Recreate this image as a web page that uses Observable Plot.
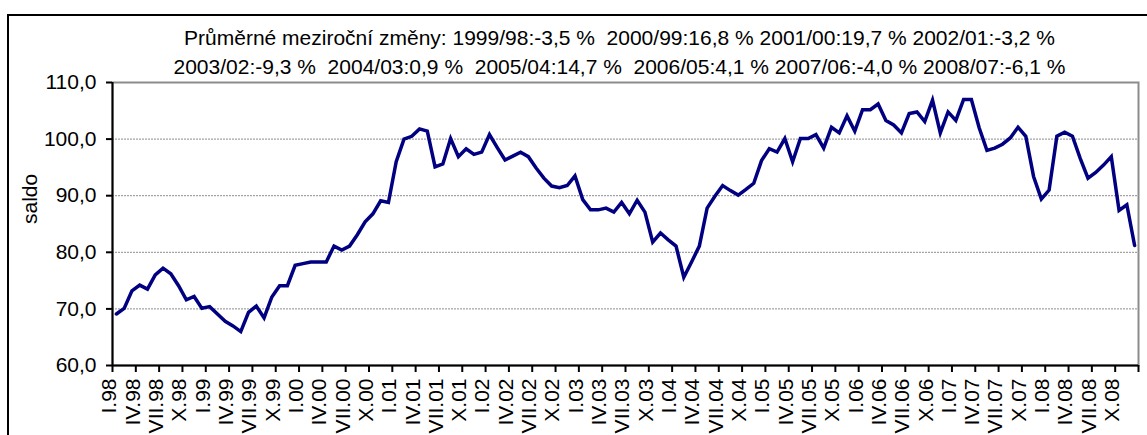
<!DOCTYPE html>
<html><head><meta charset="utf-8">
<script src="https://cdn.jsdelivr.net/npm/d3@7"></script>
<script src="https://cdn.jsdelivr.net/npm/@observablehq/plot@0.6"></script>
<style>
body{margin:0;background:#fff;}
#wrap{position:relative;width:1147px;height:435px;overflow:hidden;font-family:"Liberation Sans",Arial,sans-serif;}
#chart{position:absolute;left:0;top:0;}
#border{position:absolute;left:7px;top:14px;width:1200px;height:500px;border-left:2.5px solid #000;border-top:2px solid #000;}
.t{position:absolute;left:0;width:1239px;text-align:center;font-size:21px;line-height:21px;white-space:pre;color:#000;}
</style></head>
<body>
<div id="wrap"><div id="chart"></div><div id="border"></div><div class="t" id="t1"></div><div class="t" id="t2"></div></div>
<script>
// Monthly values I.1998 – XII.2008
const values = [
  69.1, 70.1, 73.2, 74.2, 73.5, 76.0, 77.2, 76.2, 74.1, 71.6, 72.2, 70.1,
  70.4, 69.1, 67.8, 67.0, 66.0, 69.4, 70.5, 68.4, 72.1, 74.1, 74.1, 77.7,
  78.0, 78.3, 78.3, 78.3, 81.1, 80.4, 81.1, 83.1, 85.4, 86.8, 89.1, 88.8,
  96.0, 100.0, 100.5, 101.8, 101.4, 95.1, 95.6, 100.1, 96.9, 98.3, 97.3, 97.7,
  100.8, 98.5, 96.3, 97.0, 97.7, 96.9, 94.9, 93.1, 91.7, 91.4, 91.8, 93.5,
  89.3, 87.5, 87.5, 87.8, 87.1, 88.8, 86.8, 89.2, 87.1, 81.8, 83.4, 82.2,
  81.1, 75.6, 78.3, 81.1, 87.8, 89.9, 91.8, 90.9, 90.1, 91.1, 92.2, 96.2,
  98.3, 97.7, 100.1, 96.0, 100.1, 100.1, 100.8, 98.4, 102.1, 101.1, 104.1, 101.4,
  105.2, 105.2, 106.2, 103.3, 102.5, 101.1, 104.5, 104.8, 103.1, 106.9, 101.1, 104.8,
  103.3, 107.0, 107.0, 102.0, 98.0, 98.4, 99.1, 100.2, 102.1, 100.5, 93.4, 89.4,
  91.0, 100.5, 101.2, 100.5, 96.6, 93.1, 94.1, 95.4, 96.9, 87.4, 88.4, 81.2
];
const tickLabels = [
  "I.98","IV.98","VII.98","X.98","I.99","IV.99","VII.99","X.99",
  "I.00","IV.00","VII.00","X.00","I.01","IV.01","VII.01","X.01",
  "I.02","IV.02","VII.02","X.02","I.03","IV.03","VII.03","X.03",
  "I.04","IV.04","VII.04","X.04","I.05","IV.05","VII.05","X.05",
  "I.06","IV.06","VII.06","X.06","I.07","IV.07","VII.07","X.07",
  "I.08","IV.08","VII.08","X.08"
];
const yTicks = [60, 70, 80, 90, 100, 110];
const gridValues = [70, 80, 90, 100];
const yLabel = "saldo";
const titleLine1 = "Průměrné meziroční změny: 1999/98:-3,5 %  2000/99:16,8 % 2001/00:19,7 % 2002/01:-3,2 %";
const titleLine2 = "2003/02:-9,3 %  2004/03:0,9 %  2005/04:14,7 %  2006/05:4,1 % 2007/06:-4,0 % 2008/07:-6,1 %";

const t1 = document.getElementById("t1"); t1.textContent = titleLine1; t1.style.top = "27px";
const t2 = document.getElementById("t2"); t2.textContent = titleLine2; t2.style.top = "56px";

const nMonths = values.length;
const tickPositions = d3.range(0, nMonths + 1, 3);
const fmt = d => d.toFixed(1).replace(".", ",");

const chart = Plot.plot({
  width: 1147,
  height: 435,
  marginLeft: 112,
  marginRight: 9,
  marginTop: 82,
  marginBottom: 70,
  style: {fontFamily: "'Liberation Sans', Arial, sans-serif", fontSize: "21px", background: "transparent", color: "#000"},
  x: {domain: [0, nMonths]},
  y: {domain: [60, 110]},
  marks: [
    Plot.gridY(gridValues, {stroke: "#8c8c8c", strokeOpacity: 1, strokeWidth: 1, strokeDasharray: "2,1"}),
    Plot.frame({stroke: "#8c8c8c", strokeWidth: 2}),
    Plot.axisY({ticks: yTicks, tickSize: 6, tickPadding: 10, tickFormat: fmt, fontSize: 21, label: null, strokeWidth: 2, stroke: "#000", fill: "#000"}),
    Plot.axisX({ticks: tickPositions, tickSize: 7, tickFormat: () => "", label: null, strokeWidth: 2, stroke: "#000"}),
    Plot.ruleX([0], {stroke: "#000", strokeWidth: 2}),
    Plot.ruleY([60], {stroke: "#000", strokeWidth: 2}),
    Plot.text(tickLabels, {x: (d, i) => i * 3 + 0.5, frameAnchor: "bottom", rotate: -90, textAnchor: "end", dy: 13, fontSize: 21, fill: "#000"}),
    Plot.text([yLabel], {frameAnchor: "left", rotate: -90, dx: -82, fontSize: 21, fill: "#000"}),
    Plot.lineY(values, {x: (d, i) => i + 0.5, y: d => d, stroke: "#000080", strokeWidth: 3.5, strokeLinejoin: "miter", strokeMiterlimit: 4})
  ]
});
document.getElementById("chart").appendChild(chart);
</script>
</body></html>
